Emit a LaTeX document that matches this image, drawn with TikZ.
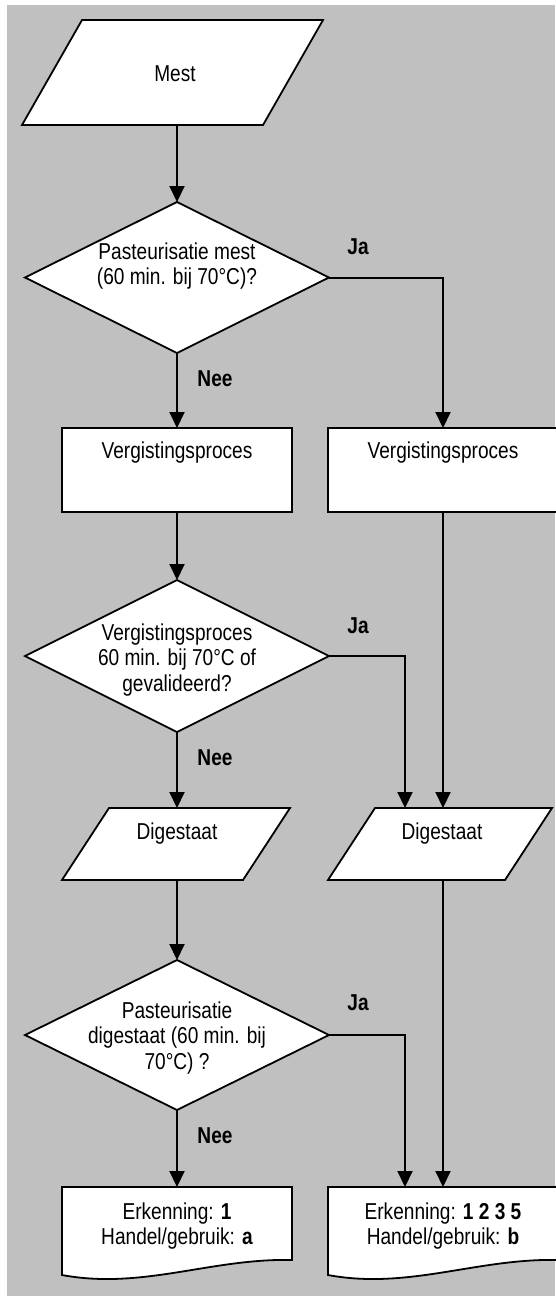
\documentclass[tikz,border=0pt]{standalone}
\usepackage{fontspec}
\setmainfont{Liberation Sans}[FakeStretch=0.83]
\usetikzlibrary{arrows.meta,calc}
\definecolor{bgray}{HTML}{C0C0C0}
\tikzset{
  frame/.style={draw=none, rectangle, inner sep=0pt, outer sep=0pt},
  shp/.style={draw=black, fill=white, line width=1.8pt, line join=miter},
  txt/.style={font=\fontsize{23}{25.5}\selectfont, align=center, inner sep=0pt},
  lbl/.style={font=\fontsize{23}{25.5}\selectfont\bfseries, inner sep=0pt},
  arr/.style={line width=2pt, -{Triangle[width=15pt,length=16pt]}}
}
\begin{document}
\begin{tikzpicture}[x=1pt,y=-1pt]
\useasboundingbox (0,0) rectangle (555,1296);
\fill[bgray] (7,5) rectangle (555,1296);

% Mest
\node[frame, minimum width=301pt, minimum height=105pt] (mest) at (172.5,72.5) {};
\draw[shp] ([xshift=60pt]mest.north west) -- (mest.north east) -- ([xshift=-60pt]mest.south east) -- (mest.south west) -- cycle;
\node[txt] (mestT) at (175,74) {Mest};

% Decision 1
\node[frame, minimum width=304pt, minimum height=151pt] (q1) at (177,277.5) {};
\draw[shp] (q1.north) -- (q1.east) -- (q1.south) -- (q1.west) -- cycle;
\node[txt] (q1T) at (177,266) {Pasteurisatie mest\\(60 min. bij 70°C)?};

% Process boxes
\node[frame, minimum width=230pt, minimum height=84pt] (vL) at (177,470) {};
\draw[shp] (vL.south west) rectangle (vL.north east);
\node[txt] (vLT) at (177,453) {Vergistingsproces};
\node[frame, minimum width=230pt, minimum height=84pt] (vR) at (443,470) {};
\draw[shp] (vR.south west) rectangle (vR.north east);
\node[txt] (vRT) at (443,453) {Vergistingsproces};

% Decision 2
\node[frame, minimum width=304pt, minimum height=152pt] (q2) at (177,656) {};
\draw[shp] (q2.north) -- (q2.east) -- (q2.south) -- (q2.west) -- cycle;
\node[txt] (q2T) at (177,660) {Vergistingsproces\\60 min. bij 70°C of\\gevalideerd?};

% Digestaat
\node[frame, minimum width=228pt, minimum height=72pt] (dL) at (176,844) {};
\draw[shp] ([xshift=47pt]dL.north west) -- (dL.north east) -- ([xshift=-47pt]dL.south east) -- (dL.south west) -- cycle;
\node[txt] (dLT) at (177,834) {Digestaat};
\node[frame, minimum width=224pt, minimum height=72pt] (dR) at (440,844) {};
\draw[shp] ([xshift=47pt]dR.north west) -- (dR.north east) -- ([xshift=-47pt]dR.south east) -- (dR.south west) -- cycle;
\node[txt] (dRT) at (442,834) {Digestaat};

% Decision 3
\node[frame, minimum width=304pt, minimum height=150pt] (q3) at (177,1035) {};
\draw[shp] (q3.north) -- (q3.east) -- (q3.south) -- (q3.west) -- cycle;
\node[txt] (q3T) at (177,1038) {Pasteurisatie\\digestaat (60 min. bij\\70°C) ?};

% Documents
\node[frame, minimum width=230pt, minimum height=88pt] (dcL) at (177,1231) {};
\draw[shp] (dcL.south west) -- (dcL.north west) -- (dcL.north east) -- ([yshift=15pt]dcL.south east)
  .. controls ($(dcL.south west)!0.65!(dcL.south east)+(0,-17)$) and ($(dcL.south west)!0.35!(dcL.south east)+(0,15)$) .. (dcL.south west) -- cycle;
\node[txt] (dcLT) at (177,1226) {Erkenning: \textbf{1}\\Handel/gebruik: \textbf{a}};
\node[frame, minimum width=230pt, minimum height=88pt] (dcR) at (443,1231) {};
\draw[shp] (dcR.south west) -- (dcR.north west) -- (dcR.north east) -- ([yshift=15pt]dcR.south east)
  .. controls ($(dcR.south west)!0.65!(dcR.south east)+(0,-17)$) and ($(dcR.south west)!0.35!(dcR.south east)+(0,15)$) .. (dcR.south west) -- cycle;
\node[txt] (dcRT) at (443,1226) {Erkenning: \textbf{1 2 3 5}\\Handel/gebruik: \textbf{b}};

% Join points
\coordinate (j2) at (405,808);
\coordinate (j3) at (405,1187);

% Connectors
\draw[arr] (q1.north |- mest.south) -- (q1.north);
\draw[arr] (q1.south) -- (vL.north);
\draw[arr] (q1.east) -| (vR.north);
\draw[arr] (vL.south) -- (q2.north);
\draw[arr] (q2.south) -- (q2.south |- dL.north);
\draw[arr] (q2.east) -| (j2);
\draw[arr] (vR.south) -- (vR.south |- dR.north);
\draw[arr] (q3.north |- dL.south) -- (q3.north);
\draw[arr] (q3.south) -- (dcL.north);
\draw[arr] (q3.east) -| (j3);
\draw[arr] (vR.south |- dR.south) -- (dcR.north);

% Labels
\node[lbl] (ja1) at (358,247) {Ja};
\node[lbl] (nee1) at (215,379) {Nee};
\node[lbl] (ja2) at (358,626) {Ja};
\node[lbl] (nee2) at (215,758) {Nee};
\node[lbl] (ja3) at (358,1003) {Ja};
\node[lbl] (nee3) at (215,1136) {Nee};
\end{tikzpicture}
\end{document}
